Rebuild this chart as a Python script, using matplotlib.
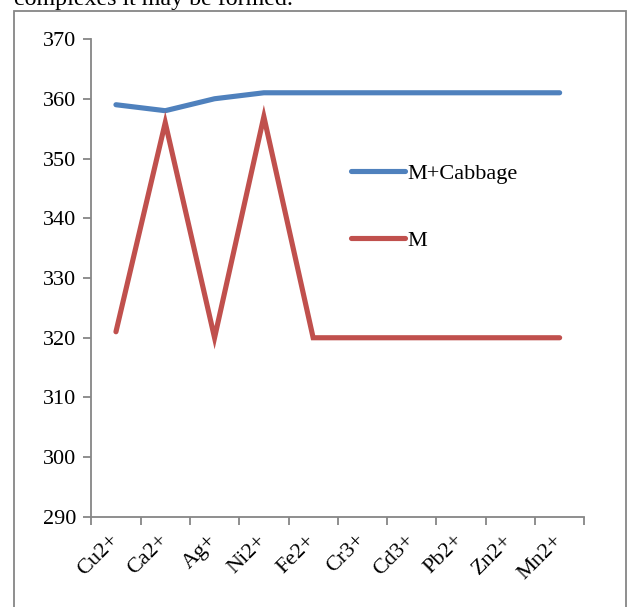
import matplotlib
matplotlib.use("Agg")
import matplotlib.pyplot as plt
from matplotlib.patches import Rectangle
from matplotlib.transforms import ScaledTranslation

ions = ["Cu2+", "Ca2+", "Ag+", "Ni2+", "Fe2+", "Cr3+", "Cd3+", "Pb2+", "Zn2+", "Mn2+"]
m_cabbage = [359, 358, 360, 361, 361, 361, 361, 361, 361, 361]
m_only = [321, 356, 320, 357, 320, 320, 320, 320, 320, 320]
y_ticks = [290, 300, 310, 320, 330, 340, 350, 360, 370]

plt.rcParams["font.family"] = ["Liberation Serif", "DejaVu Serif"]
FS = 16
GRAY = "#868686"
W, H = 628, 607

fig = plt.figure(figsize=(W / 100, H / 100), dpi=100)
fig.patch.set_facecolor("white")

# frame around the chart
fig.add_artist(Rectangle((14 / W, -0.05), (626 - 14) / W, 1.05 - 11 / H,
                         transform=fig.transFigure, fill=False,
                         edgecolor=GRAY, linewidth=1.3))
# trailing line of the paragraph above
fig.text(14 / W, 1 - 5 / H, "complexes it may be formed.", fontsize=17.3,
         ha="left", va="baseline")

ax = fig.add_axes([91.3 / W, 90 / H, (584.3 - 91.3) / W, 478 / H])
x = list(range(len(ions)))
ax.plot(x, m_cabbage, color="#4F81BD", lw=3.7, solid_capstyle="round",
        solid_joinstyle="miter", label="M+Cabbage")
ax.plot(x, m_only, color="#C0504D", lw=3.7, solid_capstyle="round",
        solid_joinstyle="miter", label="M")

ax.set_xlim(-0.5, len(ions) - 0.5)
ax.set_ylim(290, 370)
ax.set_yticks(y_ticks)
ax.set_xticks([i - 0.5 for i in range(len(ions) + 1)], minor=False)
ax.set_xticklabels([])
ax.set_xticks(x, minor=True)
ax.set_xticklabels(ions, minor=True, rotation=45, ha="right", va="center",
                   rotation_mode="anchor", fontsize=FS)
shift = ScaledTranslation(3 / 100, 0, fig.dpi_scale_trans)
for lbl in ax.get_xticklabels(minor=True):
    lbl.set_transform(lbl.get_transform() + shift)
ax.tick_params(axis="x", which="minor", length=0, pad=15)
ax.tick_params(axis="x", which="major", direction="out", length=6,
               color=GRAY, width=1.3)
ax.tick_params(axis="y", direction="out", length=6, color=GRAY, width=1.3,
               labelsize=FS, pad=5)
for s in ("top", "right"):
    ax.spines[s].set_visible(False)
for s in ("left", "bottom"):
    ax.spines[s].set_color(GRAY)
    ax.spines[s].set_linewidth(1.3)

leg = ax.legend(loc="upper left", bbox_to_anchor=(351 / W, 1 - 163 / H),
                bbox_transform=fig.transFigure, frameon=False, fontsize=FS,
                handlelength=2.45, handletextpad=0.1, labelspacing=2.1,
                borderpad=0, borderaxespad=0)

fig.savefig("out.png", dpi=100)
